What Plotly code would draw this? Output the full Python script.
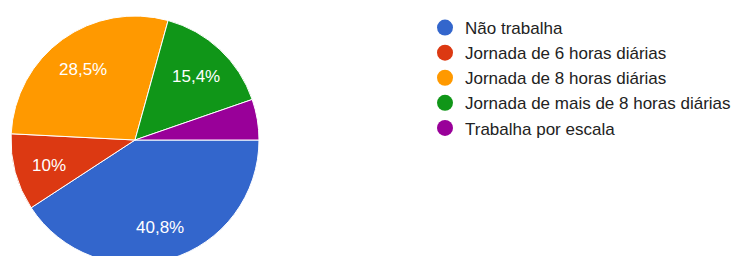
import math
import plotly.graph_objects as go

categories = ["Não trabalha", "Jornada de 6 horas diárias", "Jornada de 8 horas diárias",
              "Jornada de mais de 8 horas diárias", "Trabalha por escala"]
values = [40.8, 10, 28.5, 15.4, 5.3]
colors = ["#3366cc", "#dc3912", "#ff9900", "#109618", "#990099"]
shown_labels = [True, True, True, True, False]

texts = [(f"{v:g}".replace(".", ",") + "%") if s else "" for v, s in zip(values, shown_labels)]

W, H = 736, 264
cx, cy, r = 135, 140, 124
FONT = "Liberation Sans, Arial, sans-serif"

fig = go.Figure()
fig.add_trace(go.Pie(
    labels=categories, values=values, sort=False, direction="clockwise", rotation=90,
    marker=dict(colors=colors, line=dict(color="white", width=1)),
    textinfo="none", showlegend=False, hoverinfo="label+percent",
    domain=dict(x=[(cx - r) / W, (cx + r) / W], y=[(H - cy - r) / H, (H - cy + r) / H]),
))

# slice labels placed along each slice's bisector at ~0.72 of the radius
total = sum(values)
start = 90.0
for v, t in zip(values, texts):
    span = v / total * 360
    mid = math.radians(start + span / 2)
    start += span
    if not t:
        continue
    px = cx + 0.72 * r * math.sin(mid)
    py = cy - 0.72 * r * math.cos(mid) + 2
    fig.add_annotation(x=px / W, y=(H - py) / H, xref="paper", yref="paper", text=t,
                       showarrow=False, xanchor="center", yanchor="middle",
                       font=dict(family=FONT, size=17, color="white"))

for name, col in zip(categories, colors):
    fig.add_trace(go.Scatter(x=[None], y=[None], mode="markers", name=name,
                             marker=dict(color=col, size=16, symbol="circle")))

fig.update_layout(
    width=W, height=H, margin=dict(l=0, r=0, t=0, b=0),
    paper_bgcolor="white", plot_bgcolor="white",
    xaxis=dict(visible=False), yaxis=dict(visible=False),
    font=dict(family=FONT, size=17, color="#222222"),
    legend=dict(x=425 / W, y=1 - 10 / H, xanchor="left", yanchor="top",
                bgcolor="rgba(0,0,0,0)", itemsizing="trace", tracegroupgap=0,
                font=dict(size=17, color="#222222")),
)
fig.write_html("out.html", config={"displayModeBar": False},
               post_script="document.body.style.margin='0';document.body.style.overflow='hidden';")
